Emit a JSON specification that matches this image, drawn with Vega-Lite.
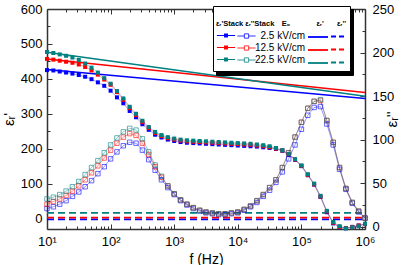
{
"$schema": "https://vega.github.io/schema/vega-lite/v6.json",
"width": 318, "height": 220,
"autosize": "none",
"padding": {"left": 47, "top": 9, "right": 51, "bottom": 36},
"background": "white",
"config": {
  "view": {"stroke": null},
  "font": "Liberation Sans",
  "axis": {"grid": false, "domainColor": "#333", "domainWidth": 1.5, "tickColor": "#333", "tickWidth": 1, "labelFont": "Liberation Sans", "labelFontSize": 13, "labelColor": "#000", "titleFont": "Liberation Sans", "titleFontWeight": "normal", "titleColor": "#000", "labelFlush": false, "labelOverlap": false}
},
"datasets": {
  "stack": [
    {"f":10,"E":"2.5 kV/cm","ep":425,"epp":21},{"f":12.59,"E":"2.5 kV/cm","ep":424,"epp":23},{"f":15.85,"E":"2.5 kV/cm","ep":421,"epp":26},{"f":19.95,"E":"2.5 kV/cm","ep":418,"epp":30},{"f":25.12,"E":"2.5 kV/cm","ep":415,"epp":35},{"f":31.62,"E":"2.5 kV/cm","ep":411,"epp":40},{"f":39.81,"E":"2.5 kV/cm","ep":406,"epp":46},{"f":50.12,"E":"2.5 kV/cm","ep":399,"epp":53},{"f":63.1,"E":"2.5 kV/cm","ep":390,"epp":61},{"f":79.43,"E":"2.5 kV/cm","ep":380,"epp":69},
    {"f":100,"E":"2.5 kV/cm","ep":366,"epp":78},{"f":125.9,"E":"2.5 kV/cm","ep":347,"epp":86},{"f":158.5,"E":"2.5 kV/cm","ep":330,"epp":93},{"f":199.5,"E":"2.5 kV/cm","ep":308,"epp":97},{"f":251.2,"E":"2.5 kV/cm","ep":290,"epp":96},{"f":316.2,"E":"2.5 kV/cm","ep":270,"epp":88},{"f":398.1,"E":"2.5 kV/cm","ep":254,"epp":77},{"f":501.2,"E":"2.5 kV/cm","ep":240,"epp":65},{"f":631,"E":"2.5 kV/cm","ep":232,"epp":54},{"f":794.3,"E":"2.5 kV/cm","ep":226,"epp":45},
    {"f":1000,"E":"2.5 kV/cm","ep":222,"epp":37},{"f":1259,"E":"2.5 kV/cm","ep":219,"epp":30},{"f":1585,"E":"2.5 kV/cm","ep":217,"epp":25},{"f":1995,"E":"2.5 kV/cm","ep":216,"epp":21},{"f":2512,"E":"2.5 kV/cm","ep":215,"epp":18},{"f":3162,"E":"2.5 kV/cm","ep":214,"epp":16},{"f":3981,"E":"2.5 kV/cm","ep":213,"epp":15},{"f":5012,"E":"2.5 kV/cm","ep":212,"epp":14},{"f":6310,"E":"2.5 kV/cm","ep":211,"epp":14},{"f":7943,"E":"2.5 kV/cm","ep":210,"epp":15},
    {"f":10000,"E":"2.5 kV/cm","ep":209,"epp":16},{"f":12589,"E":"2.5 kV/cm","ep":208,"epp":19},{"f":15849,"E":"2.5 kV/cm","ep":207,"epp":23},{"f":19953,"E":"2.5 kV/cm","ep":206,"epp":28},{"f":25119,"E":"2.5 kV/cm","ep":204,"epp":35},{"f":31623,"E":"2.5 kV/cm","ep":202,"epp":42},{"f":39811,"E":"2.5 kV/cm","ep":199,"epp":51},{"f":50119,"E":"2.5 kV/cm","ep":194,"epp":63},{"f":63096,"E":"2.5 kV/cm","ep":182,"epp":78},{"f":79433,"E":"2.5 kV/cm","ep":168,"epp":94},
    {"f":100000,"E":"2.5 kV/cm","ep":150,"epp":112},{"f":125893,"E":"2.5 kV/cm","ep":124,"epp":128},{"f":158489,"E":"2.5 kV/cm","ep":97,"epp":137},{"f":199526,"E":"2.5 kV/cm","ep":62,"epp":138},{"f":251189,"E":"2.5 kV/cm","ep":18,"epp":118},{"f":316228,"E":"2.5 kV/cm","ep":-14,"epp":94},{"f":398107,"E":"2.5 kV/cm","ep":-25,"epp":66},{"f":501187,"E":"2.5 kV/cm","ep":-28,"epp":43},{"f":630957,"E":"2.5 kV/cm","ep":-24,"epp":27},{"f":794328,"E":"2.5 kV/cm","ep":-20,"epp":17},{"f":1000000,"E":"2.5 kV/cm","ep":-16,"epp":10},

    {"f":10,"E":"12.5 kV/cm","ep":457,"epp":26},{"f":12.59,"E":"12.5 kV/cm","ep":455,"epp":29},{"f":15.85,"E":"12.5 kV/cm","ep":452,"epp":32},{"f":19.95,"E":"12.5 kV/cm","ep":449,"epp":36},{"f":25.12,"E":"12.5 kV/cm","ep":446,"epp":41},{"f":31.62,"E":"12.5 kV/cm","ep":441,"epp":47},{"f":39.81,"E":"12.5 kV/cm","ep":434,"epp":54},{"f":50.12,"E":"12.5 kV/cm","ep":424,"epp":62},{"f":63.1,"E":"12.5 kV/cm","ep":412,"epp":70},{"f":79.43,"E":"12.5 kV/cm","ep":398,"epp":79},
    {"f":100,"E":"12.5 kV/cm","ep":383,"epp":88},{"f":125.9,"E":"12.5 kV/cm","ep":362,"epp":96},{"f":158.5,"E":"12.5 kV/cm","ep":340,"epp":103},{"f":199.5,"E":"12.5 kV/cm","ep":316,"epp":107},{"f":251.2,"E":"12.5 kV/cm","ep":296,"epp":105},{"f":316.2,"E":"12.5 kV/cm","ep":276,"epp":96},{"f":398.1,"E":"12.5 kV/cm","ep":259,"epp":83},{"f":501.2,"E":"12.5 kV/cm","ep":245,"epp":69},{"f":631,"E":"12.5 kV/cm","ep":236,"epp":57},{"f":794.3,"E":"12.5 kV/cm","ep":230,"epp":47},
    {"f":1000,"E":"12.5 kV/cm","ep":226,"epp":38},{"f":1259,"E":"12.5 kV/cm","ep":223,"epp":31},{"f":1585,"E":"12.5 kV/cm","ep":221,"epp":26},{"f":1995,"E":"12.5 kV/cm","ep":220,"epp":22},{"f":2512,"E":"12.5 kV/cm","ep":219,"epp":19},{"f":3162,"E":"12.5 kV/cm","ep":218,"epp":17},{"f":3981,"E":"12.5 kV/cm","ep":217,"epp":16},{"f":5012,"E":"12.5 kV/cm","ep":216,"epp":15},{"f":6310,"E":"12.5 kV/cm","ep":215,"epp":15},{"f":7943,"E":"12.5 kV/cm","ep":214,"epp":16},
    {"f":10000,"E":"12.5 kV/cm","ep":213,"epp":17},{"f":12589,"E":"12.5 kV/cm","ep":212,"epp":20},{"f":15849,"E":"12.5 kV/cm","ep":211,"epp":24},{"f":19953,"E":"12.5 kV/cm","ep":209,"epp":30},{"f":25119,"E":"12.5 kV/cm","ep":207,"epp":37},{"f":31623,"E":"12.5 kV/cm","ep":204,"epp":45},{"f":39811,"E":"12.5 kV/cm","ep":200,"epp":54},{"f":50119,"E":"12.5 kV/cm","ep":195,"epp":68},{"f":63096,"E":"12.5 kV/cm","ep":184,"epp":85},{"f":79433,"E":"12.5 kV/cm","ep":169,"epp":103},
    {"f":100000,"E":"12.5 kV/cm","ep":151,"epp":120},{"f":125893,"E":"12.5 kV/cm","ep":125,"epp":136},{"f":158489,"E":"12.5 kV/cm","ep":98,"epp":144},{"f":199526,"E":"12.5 kV/cm","ep":63,"epp":145},{"f":251189,"E":"12.5 kV/cm","ep":20,"epp":122},{"f":316228,"E":"12.5 kV/cm","ep":-12,"epp":97},{"f":398107,"E":"12.5 kV/cm","ep":-24,"epp":68},{"f":501187,"E":"12.5 kV/cm","ep":-27,"epp":44},{"f":630957,"E":"12.5 kV/cm","ep":-24,"epp":28},{"f":794328,"E":"12.5 kV/cm","ep":-20,"epp":18},{"f":1000000,"E":"12.5 kV/cm","ep":-16,"epp":10},

    {"f":10,"E":"22.5 kV/cm","ep":477,"epp":32},{"f":12.59,"E":"22.5 kV/cm","ep":474,"epp":34},{"f":15.85,"E":"22.5 kV/cm","ep":470,"epp":37},{"f":19.95,"E":"22.5 kV/cm","ep":466,"epp":41},{"f":25.12,"E":"22.5 kV/cm","ep":461,"epp":46},{"f":31.62,"E":"22.5 kV/cm","ep":454,"epp":52},{"f":39.81,"E":"22.5 kV/cm","ep":444,"epp":60},{"f":50.12,"E":"22.5 kV/cm","ep":432,"epp":68},{"f":63.1,"E":"22.5 kV/cm","ep":418,"epp":76},{"f":79.43,"E":"22.5 kV/cm","ep":402,"epp":85},
    {"f":100,"E":"22.5 kV/cm","ep":386,"epp":94},{"f":125.9,"E":"22.5 kV/cm","ep":365,"epp":102},{"f":158.5,"E":"22.5 kV/cm","ep":344,"epp":109},{"f":199.5,"E":"22.5 kV/cm","ep":320,"epp":113},{"f":251.2,"E":"22.5 kV/cm","ep":300,"epp":111},{"f":316.2,"E":"22.5 kV/cm","ep":280,"epp":101},{"f":398.1,"E":"22.5 kV/cm","ep":262,"epp":86},{"f":501.2,"E":"22.5 kV/cm","ep":248,"epp":71},{"f":631,"E":"22.5 kV/cm","ep":239,"epp":58},{"f":794.3,"E":"22.5 kV/cm","ep":233,"epp":47},
    {"f":1000,"E":"22.5 kV/cm","ep":229,"epp":38},{"f":1259,"E":"22.5 kV/cm","ep":226,"epp":31},{"f":1585,"E":"22.5 kV/cm","ep":224,"epp":26},{"f":1995,"E":"22.5 kV/cm","ep":223,"epp":22},{"f":2512,"E":"22.5 kV/cm","ep":222,"epp":19},{"f":3162,"E":"22.5 kV/cm","ep":221,"epp":17},{"f":3981,"E":"22.5 kV/cm","ep":220,"epp":16},{"f":5012,"E":"22.5 kV/cm","ep":219,"epp":15},{"f":6310,"E":"22.5 kV/cm","ep":218,"epp":15},{"f":7943,"E":"22.5 kV/cm","ep":217,"epp":16},
    {"f":10000,"E":"22.5 kV/cm","ep":216,"epp":17},{"f":12589,"E":"22.5 kV/cm","ep":215,"epp":20},{"f":15849,"E":"22.5 kV/cm","ep":214,"epp":24},{"f":19953,"E":"22.5 kV/cm","ep":212,"epp":30},{"f":25119,"E":"22.5 kV/cm","ep":210,"epp":37},{"f":31623,"E":"22.5 kV/cm","ep":207,"epp":45},{"f":39811,"E":"22.5 kV/cm","ep":202,"epp":54},{"f":50119,"E":"22.5 kV/cm","ep":196,"epp":68},{"f":63096,"E":"22.5 kV/cm","ep":185,"epp":85},{"f":79433,"E":"22.5 kV/cm","ep":170,"epp":103},
    {"f":100000,"E":"22.5 kV/cm","ep":152,"epp":120},{"f":125893,"E":"22.5 kV/cm","ep":127,"epp":136},{"f":158489,"E":"22.5 kV/cm","ep":100,"epp":144},{"f":199526,"E":"22.5 kV/cm","ep":65,"epp":146},{"f":251189,"E":"22.5 kV/cm","ep":22,"epp":122},{"f":316228,"E":"22.5 kV/cm","ep":-10,"epp":97},{"f":398107,"E":"22.5 kV/cm","ep":-22,"epp":68},{"f":501187,"E":"22.5 kV/cm","ep":-28,"epp":44},{"f":630957,"E":"22.5 kV/cm","ep":-25,"epp":28},{"f":794328,"E":"22.5 kV/cm","ep":-22,"epp":18},{"f":1000000,"E":"22.5 kV/cm","ep":-15,"epp":10}
  ],
  "lines": [
    {"f":10,"E":"2.5 kV/cm","er":427,"ei":8.5},{"f":1000000,"E":"2.5 kV/cm","er":344,"ei":8.5},
    {"f":10,"E":"12.5 kV/cm","er":457,"ei":10.5},{"f":1000000,"E":"12.5 kV/cm","er":361,"ei":10.5},
    {"f":10,"E":"22.5 kV/cm","er":476,"ei":16},{"f":1000000,"E":"22.5 kV/cm","er":350,"ei":16}
  ]
},
"resolve": {"scale": {"y": "independent", "color": "independent"}, "axis": {"x": "independent", "y": "independent"}},
"layer": [
  {
    "data": {"name": "stack"},
    "mark": {"type": "line", "strokeWidth": 0.8, "opacity": 0.45},
    "encoding": {
      "x": {"field": "f", "type": "quantitative", "scale": {"type": "log", "domain": [10, 1000000], "nice": false}, "axis": null},
      "y": {"field": "ep", "type": "quantitative", "scale": {"domain": [-30, 600], "nice": false, "zero": false}, "axis": null},
      "color": {"field": "E", "type": "nominal", "scale": {"domain": ["2.5 kV/cm", "12.5 kV/cm", "22.5 kV/cm"], "range": ["#0000ff", "#ff0000", "#008080"]},
        "legend": {"orient": "none", "legendX": 169, "legendY": 0, "title": null, "padding": 13.5, "fillColor": "black", "strokeColor": "black", "symbolSize": 169, "symbolType": "M-1.54,0H1.54", "symbolOpacity": 0, "symbolOffset": 91.5, "labelExpr": "''", "labelOffset": 0, "labelFontSize": 10, "rowPadding": 0}}
    }
  },
  {
    "data": {"name": "lines"},
    "mark": {"type": "line", "strokeWidth": 1.5},
    "encoding": {
      "x": {"field": "f", "type": "quantitative", "axis": null},
      "y": {"field": "er", "type": "quantitative", "scale": {"domain": [-30, 600], "nice": false, "zero": false}, "axis": null},
      "color": {"field": "E", "type": "nominal", "scale": {"domain": ["2.5 kV/cm", "12.5 kV/cm", "22.5 kV/cm"], "range": ["#0000ff", "#ff0000", "#008080"]},
        "legend": {"orient": "none", "legendX": 166, "legendY": -3, "title": ["", "εᵣ'Stack εᵣ''Stack\u2003E₀\u2003\u2003\u2003\u2002εᵣ'\u2003\u2002 εᵣ''"], "titleFontSize": 7.5, "titleLineHeight": 11, "titlePadding": 2, "titleColor": "black", "padding": 3, "fillColor": "white", "strokeColor": "black", "symbolSize": 169, "symbolType": "M-1.54,0H1.54", "symbolStrokeWidth": 1.8, "symbolOffset": 94.5, "labelExpr": "''", "labelOffset": 0, "labelFontSize": 10, "rowPadding": 0}}
    }
  },
  {
    "data": {"name": "lines"},
    "mark": {"type": "line", "strokeWidth": 1.8, "strokeDash": [7, 4]},
    "encoding": {
      "x": {"field": "f", "type": "quantitative", "axis": null},
      "y": {"field": "ei", "type": "quantitative", "scale": {"domain": [-2.5, 250], "nice": false, "zero": false}, "axis": null},
      "color": {"field": "E", "type": "nominal", "scale": {"domain": ["2.5 kV/cm", "12.5 kV/cm", "22.5 kV/cm"], "range": ["#0000ff", "#ff0000", "#008080"]},
        "legend": {"orient": "none", "legendX": 284, "legendY": 20, "title": null, "padding": 0, "symbolSize": 169, "symbolType": "M-1.15,0H1.15", "symbolDash": [5, 3], "symbolStrokeWidth": 1.8, "labelExpr": "''", "labelOffset": 0, "rowPadding": 0, "labelFontSize": 10}}
    }
  },
  {
    "data": {"name": "stack"},
    "mark": {"type": "line", "strokeWidth": 0.8, "opacity": 0.5, "point": {"shape": "square", "filled": false, "size": 20, "strokeWidth": 0.8, "opacity": 0.75}},
    "encoding": {
      "x": {"field": "f", "type": "quantitative",
        "axis": {"orient": "top", "values": [10,20,30,40,50,60,70,80,90,100,200,300,400,500,600,700,800,900,1000,2000,3000,4000,5000,6000,7000,8000,9000,10000,20000,30000,40000,50000,60000,70000,80000,90000,100000,200000,300000,400000,500000,600000,700000,800000,900000,1000000], "labels": false, "title": null,
          "tickSize": {"condition": {"test": "indexof([10,100,1000,10000,100000,1000000], datum.value) >= 0", "value": -5}, "value": -3}}},
      "y": {"field": "epp", "type": "quantitative", "scale": {"domain": [-2.5, 250], "nice": false, "zero": false},
        "axis": {"orient": "right", "values": [0,25,50,75,100,125,150,175,200,225,250], "labelExpr": "datum.value % 50 == 0 ? datum.label : ''", "labelPadding": 12,
          "tickSize": {"condition": {"test": "datum.value % 50 == 0", "value": -5}, "value": -3},
          "title": "εᵣ''", "titleAngle": 270, "titleFontSize": 15, "titlePadding": 6}},
      "color": {"field": "E", "type": "nominal", "scale": {"domain": ["2.5 kV/cm", "12.5 kV/cm", "22.5 kV/cm"], "range": ["#0000ff", "#ff0000", "#008080"]},
        "legend": {"orient": "none", "legendX": 192.5, "legendY": 20, "title": null, "padding": 0, "symbolSize": 169, "symbolType": "M-1.4,0H-0.33M0.33,0H1.4M-0.33,-0.33H0.33V0.33H-0.33Z", "symbolStrokeWidth": 1, "symbolOpacity": 0.8, "labelExpr": "''", "labelOffset": 0, "rowPadding": 0, "labelFontSize": 10}}
    }
  },
  {
    "data": {"name": "stack"},
    "mark": {"type": "point", "shape": "square", "filled": true, "size": 16, "opacity": 1},
    "encoding": {
      "x": {"field": "f", "type": "quantitative",
        "axis": {"orient": "bottom", "values": [10,20,30,40,50,60,70,80,90,100,200,300,400,500,600,700,800,900,1000,2000,3000,4000,5000,6000,7000,8000,9000,10000,20000,30000,40000,50000,60000,70000,80000,90000,100000,200000,300000,400000,500000,600000,700000,800000,900000,1000000],
          "labelExpr": "indexof([10,100,1000,10000,100000,1000000], datum.value) >= 0 ? '10' + ['¹','²','³','⁴','⁵','⁶'][round(log(datum.value)/LN10) - 1] : ''",
          "labelPadding": 11,
          "tickSize": {"condition": {"test": "indexof([10,100,1000,10000,100000,1000000], datum.value) >= 0", "value": -5}, "value": -3},
          "title": "f (Hz)", "titleFontSize": 14, "titlePadding": 2}},
      "y": {"field": "ep", "type": "quantitative", "scale": {"domain": [-30, 600], "nice": false, "zero": false},
        "axis": {"orient": "left", "values": [0,50,100,150,200,250,300,350,400,450,500,550,600], "labelExpr": "datum.value % 100 == 0 ? datum.label : ''", "labelPadding": 10,
          "tickSize": {"condition": {"test": "datum.value % 100 == 0", "value": -5}, "value": -3},
          "title": "εᵣ'", "titleFontSize": 15, "titlePadding": 4}},
      "color": {"field": "E", "type": "nominal", "scale": {"domain": ["2.5 kV/cm", "12.5 kV/cm", "22.5 kV/cm"], "range": ["#0000ff", "#ff0000", "#008080"]},
        "legend": {"orient": "none", "legendX": 172.5, "legendY": 20, "title": null, "padding": 0, "symbolSize": 169, "symbolType": "M-1.4,-0.08H1.4V0.08H-1.4Z M-0.3,-0.3H0.3V0.3H-0.3Z", "symbolStrokeWidth": 0, "labelOffset": 72.5, "labelAlign": "right", "labelFontSize": 10, "labelColor": "black", "rowPadding": 0}}
    }
  }
]
}
